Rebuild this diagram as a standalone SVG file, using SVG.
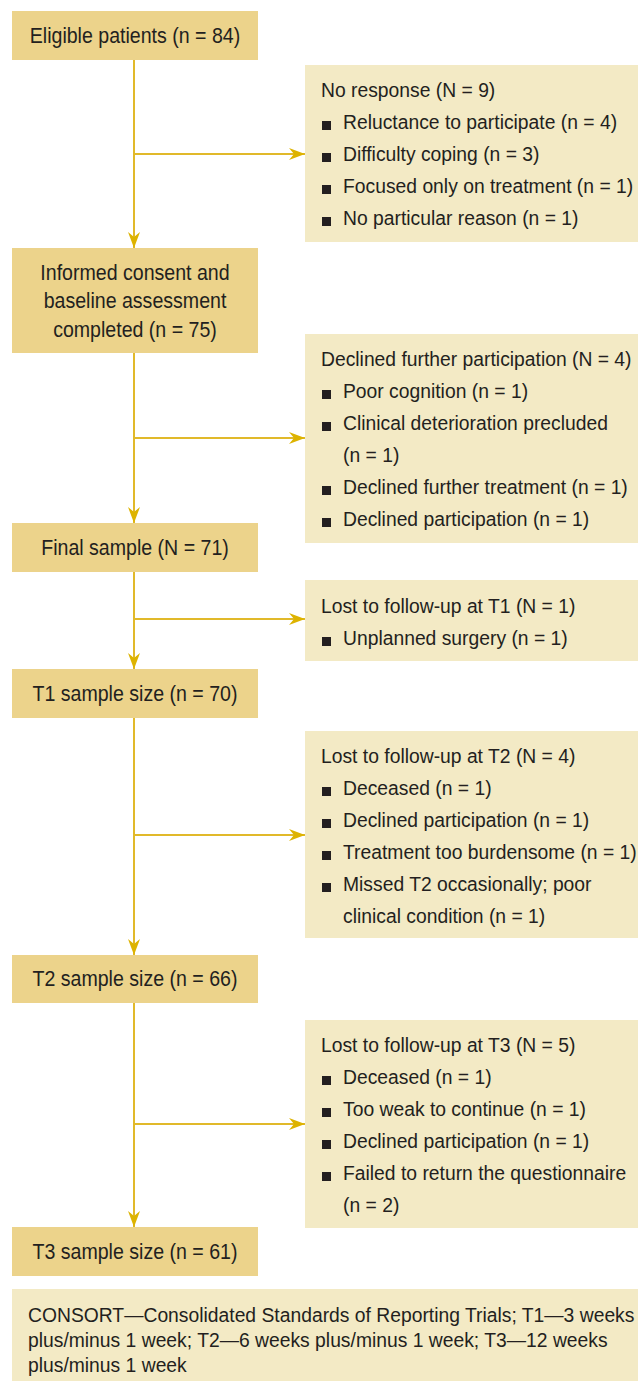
<svg xmlns="http://www.w3.org/2000/svg" width="638" height="1381" viewBox="0 0 638 1381">
<style>
.main{fill:#ECD38B}
.side{fill:#F3EAC5}
.t{font-family:"Liberation Sans",Arial,sans-serif;fill:#231F20}
.tm{font-size:22.5px;text-anchor:middle}
.ts{font-size:21px}
.tf{font-size:21px}
.b{fill:#231F20}
.ln{stroke:#E1B92A;stroke-width:2;fill:none}
</style>
<defs>
<marker id="ah" markerUnits="userSpaceOnUse" markerWidth="16" markerHeight="12" refX="16" refY="6" orient="auto">
<path d="M0,0 L16,6 L0,12 L5,6 Z" fill="#DDB300"/>
</marker>
</defs>
<g id="connectors">
<path class="ln" d="M134,60 V248" marker-end="url(#ah)"/>
<path class="ln" d="M134,154 H305" marker-end="url(#ah)"/>
<path class="ln" d="M134,353 V523" marker-end="url(#ah)"/>
<path class="ln" d="M134,438 H305" marker-end="url(#ah)"/>
<path class="ln" d="M134,572 V669" marker-end="url(#ah)"/>
<path class="ln" d="M134,619 H305" marker-end="url(#ah)"/>
<path class="ln" d="M134,718 V955" marker-end="url(#ah)"/>
<path class="ln" d="M134,835 H305" marker-end="url(#ah)"/>
<path class="ln" d="M134,1003 V1227" marker-end="url(#ah)"/>
<path class="ln" d="M134,1124 H305" marker-end="url(#ah)"/>
</g>
<g id="eligible">
<rect class="main" x="12" y="11" width="246" height="49"/>
<g transform="scale(0.87,1)"><text class="t tm" x="155.17" y="43">Eligible patients (n = 84)</text></g>
</g>
<g id="no-response">
<rect class="side" x="305" y="65" width="333" height="177"/>
<rect class="b" x="322" y="121" width="9" height="9"/>
<rect class="b" x="322" y="153" width="9" height="9"/>
<rect class="b" x="322" y="185" width="9" height="9"/>
<rect class="b" x="322" y="217" width="9" height="9"/>
<g transform="scale(0.92,1)">
<text class="t ts" x="348.91" y="97">No response (N = 9)</text>
<text class="t ts" x="372.83" y="129">Reluctance to participate (n = 4)</text>
<text class="t ts" x="372.83" y="161">Difficulty coping (n = 3)</text>
<text class="t ts" x="372.83" y="193">Focused only on treatment (n = 1)</text>
<text class="t ts" x="372.83" y="225">No particular reason (n = 1)</text>
</g>
</g>
<g id="consent">
<rect class="main" x="12" y="248" width="246" height="105"/>
<g transform="scale(0.87,1)">
<text class="t tm" x="155.17" y="280">Informed consent and</text>
<text class="t tm" x="155.17" y="308.5">baseline assessment</text>
<text class="t tm" x="155.17" y="337">completed (n = 75)</text>
</g>
</g>
<g id="declined">
<rect class="side" x="305" y="334" width="333" height="209"/>
<rect class="b" x="322" y="390" width="9" height="9"/>
<rect class="b" x="322" y="422" width="9" height="9"/>
<rect class="b" x="322" y="486" width="9" height="9"/>
<rect class="b" x="322" y="518" width="9" height="9"/>
<g transform="scale(0.92,1)">
<text class="t ts" x="348.91" y="366">Declined further participation (N = 4)</text>
<text class="t ts" x="372.83" y="398">Poor cognition (n = 1)</text>
<text class="t ts" x="372.83" y="430">Clinical deterioration precluded</text>
<text class="t ts" x="372.83" y="462">(n = 1)</text>
<text class="t ts" x="372.83" y="494">Declined further treatment (n = 1)</text>
<text class="t ts" x="372.83" y="526">Declined participation (n = 1)</text>
</g>
</g>
<g id="final-sample">
<rect class="main" x="12" y="523" width="246" height="49"/>
<g transform="scale(0.87,1)"><text class="t tm" x="155.17" y="555">Final sample (N = 71)</text></g>
</g>
<g id="lost-t1">
<rect class="side" x="305" y="580" width="333" height="81"/>
<rect class="b" x="322" y="637" width="9" height="9"/>
<g transform="scale(0.92,1)">
<text class="t ts" x="348.91" y="613">Lost to follow-up at T1 (N = 1)</text>
<text class="t ts" x="372.83" y="645">Unplanned surgery (n = 1)</text>
</g>
</g>
<g id="t1">
<rect class="main" x="12" y="669" width="246" height="49"/>
<g transform="scale(0.87,1)"><text class="t tm" x="155.17" y="701">T1 sample size (n = 70)</text></g>
</g>
<g id="lost-t2">
<rect class="side" x="305" y="731" width="333" height="207"/>
<rect class="b" x="322" y="787" width="9" height="9"/>
<rect class="b" x="322" y="819" width="9" height="9"/>
<rect class="b" x="322" y="851" width="9" height="9"/>
<rect class="b" x="322" y="883" width="9" height="9"/>
<g transform="scale(0.92,1)">
<text class="t ts" x="348.91" y="763">Lost to follow-up at T2 (N = 4)</text>
<text class="t ts" x="372.83" y="795">Deceased (n = 1)</text>
<text class="t ts" x="372.83" y="827">Declined participation (n = 1)</text>
<text class="t ts" x="372.83" y="859">Treatment too burdensome (n = 1)</text>
<text class="t ts" x="372.83" y="891">Missed T2 occasionally; poor</text>
<text class="t ts" x="372.83" y="923">clinical condition (n = 1)</text>
</g>
</g>
<g id="t2">
<rect class="main" x="12" y="955" width="246" height="48"/>
<g transform="scale(0.87,1)"><text class="t tm" x="155.17" y="986">T2 sample size (n = 66)</text></g>
</g>
<g id="lost-t3">
<rect class="side" x="305" y="1020" width="333" height="208"/>
<rect class="b" x="322" y="1076" width="9" height="9"/>
<rect class="b" x="322" y="1108" width="9" height="9"/>
<rect class="b" x="322" y="1140" width="9" height="9"/>
<rect class="b" x="322" y="1172" width="9" height="9"/>
<g transform="scale(0.92,1)">
<text class="t ts" x="348.91" y="1052">Lost to follow-up at T3 (N = 5)</text>
<text class="t ts" x="372.83" y="1084">Deceased (n = 1)</text>
<text class="t ts" x="372.83" y="1116">Too weak to continue (n = 1)</text>
<text class="t ts" x="372.83" y="1148">Declined participation (n = 1)</text>
<text class="t ts" x="372.83" y="1180">Failed to return the questionnaire</text>
<text class="t ts" x="372.83" y="1212">(n = 2)</text>
</g>
</g>
<g id="t3">
<rect class="main" x="12" y="1227" width="246" height="49"/>
<g transform="scale(0.87,1)"><text class="t tm" x="155.17" y="1259">T3 sample size (n = 61)</text></g>
</g>
<g id="footnote">
<rect class="side" x="12" y="1289" width="626" height="92"/>
<g transform="scale(0.92,1)">
<text class="t tf" x="30.43" y="1322">CONSORT—Consolidated Standards of Reporting Trials; T1—3 weeks</text>
<text class="t tf" x="30.43" y="1347">plus/minus 1 week; T2—6 weeks plus/minus 1 week; T3—12 weeks</text>
<text class="t tf" x="30.43" y="1372">plus/minus 1 week</text>
</g>
</g>
</svg>
